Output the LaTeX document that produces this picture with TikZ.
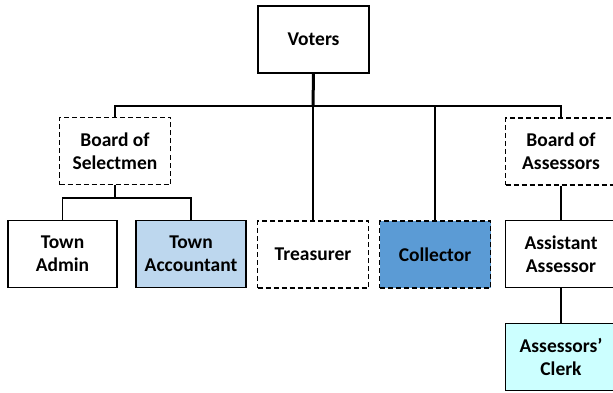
\documentclass[tikz,border=0pt]{standalone}
\usepackage{fontspec}
\setmainfont{Carlito}
\definecolor{paleblue}{HTML}{BDD7EE}
\definecolor{midblue}{HTML}{5B9BD5}
\definecolor{palecyan}{HTML}{CCFFFF}
\begin{document}
\begin{tikzpicture}[x=1pt,y=-1pt,
  box/.style={draw=black,line width=1.1pt,rectangle,minimum width=111pt,minimum height=67pt,
    align=center,inner sep=0pt,font=\fontsize{19.5}{23}\selectfont\bfseries},
  dashbox/.style={box,dash pattern=on 5pt off 3pt},
  link/.style={draw=black,line width=1.5pt},
  stem/.style={draw=black,line width=3pt}]
\useasboundingbox (0,0) rectangle (613,393);

% top of the chart
\node[box] (voters) at (313.5,39.5) {Voters};

% second tier
\node[dashbox] (selectmen) at (115,151) {Board of\\Selectmen};
\node[dashbox] (assessors) at (561,151.5) {Board of\\Assessors};

% third tier
\node[box,minimum width=109pt] (admin) at (62.5,254) {Town\\Admin};
\node[box,fill=paleblue,minimum width=110pt] (accountant) at (191,254) {Town\\Accountant};
\node[dashbox] (treasurer) at (313,254.5) {Treasurer};
\node[dashbox,fill=midblue] (collector) at (435,254.5) {Collector};
\node[box] (assistant) at (561,254) {Assistant\\Assessor};

% bottom tier
\node[box,fill=palecyan] (clerk) at (561,357) {Assessors’\\Clerk};

% bus under the voters
\coordinate (bus) at (313,106);
\coordinate (split) at (115,198);

\draw[stem] (voters.south) -- (bus);
\draw[link] (selectmen.north) |- (bus) -| (assessors.north);
\draw[link] (bus) -- (treasurer.north);
\draw[link] (collector.north) |- (bus);
\draw[link] (selectmen.south) -- (split);
\draw[link] (admin.north) |- (split) -| (accountant.north);
\draw[link] (assessors.south) -- (assistant.north);
\draw[link] (assistant.south) -- (clerk.north);
\end{tikzpicture}
\end{document}
